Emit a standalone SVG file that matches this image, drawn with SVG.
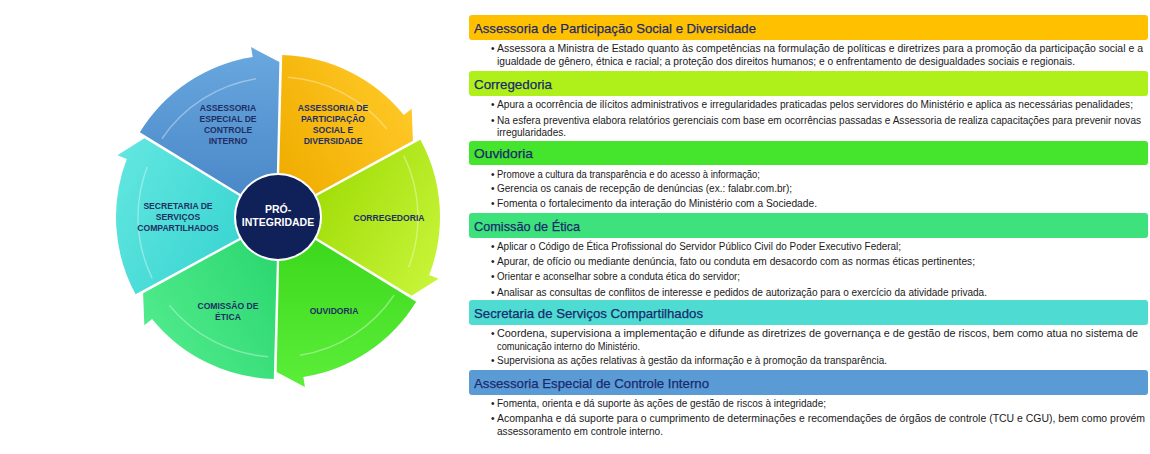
<svg xmlns="http://www.w3.org/2000/svg" width="1150" height="454" viewBox="0 0 1150 454">
<style>
.lbl{font-family:"Liberation Sans",Arial,sans-serif;font-weight:bold;font-size:8.6px;fill:#1f2f63;text-anchor:middle}
.ttl{font-family:"Liberation Sans",Arial,sans-serif;font-size:13.5px;fill:#1a2a6c;stroke:#1a2a6c;stroke-width:0.25}
.b{font-family:"Liberation Sans",Arial,sans-serif;font-size:10px;fill:#1a1a1a}
.shaft{fill:none;stroke:#ffffff;stroke-opacity:0.35;stroke-width:1.5}
</style>
<defs>
<path id="seg" d="M240.49,194.01 L139.84,132.35 A162,162 0 0 1 252.66,57.0 L251.09,47.12 L279.35,62 L276.85,173.01 A44,44 0 0 0 240.49,194.01 Z"/>
<path id="sh" d="M161.94,138.71 A140,140 0 0 1 256.1,78.72"/>
<linearGradient id="g1" x1="0" y1="0" x2="0" y2="1"><stop offset="0" stop-color="#6aa8e0"/><stop offset="1" stop-color="#4a88c8"/></linearGradient>
<linearGradient id="g2" x1="0" y1="0" x2="0" y2="1"><stop offset="0" stop-color="#ffc826"/><stop offset="1" stop-color="#f0ad00"/></linearGradient>
<linearGradient id="g3" x1="0" y1="0" x2="0" y2="1"><stop offset="0" stop-color="#c8f53a"/><stop offset="1" stop-color="#a2de0a"/></linearGradient>
<linearGradient id="g4" x1="0" y1="0" x2="0" y2="1"><stop offset="0" stop-color="#5cee3a"/><stop offset="1" stop-color="#3cd81c"/></linearGradient>
<linearGradient id="g5" x1="0" y1="0" x2="0" y2="1"><stop offset="0" stop-color="#50ea8c"/><stop offset="1" stop-color="#2cd870"/></linearGradient>
<linearGradient id="g6" x1="0" y1="0" x2="0" y2="1"><stop offset="0" stop-color="#62e6e0"/><stop offset="1" stop-color="#3cd6d2"/></linearGradient>
</defs>
<rect width="1150" height="454" fill="#ffffff"/>
<g id="wheel">
<g id="n-aeci"><use href="#seg" fill="url(#g1)"/><use href="#sh" class="shaft"/></g>
<g id="n-apsd" transform="rotate(60 278 217)"><use href="#seg" fill="url(#g2)"/><use href="#sh" class="shaft"/></g>
<g id="n-corr" transform="rotate(120 278 217)"><use href="#seg" fill="url(#g3)"/><use href="#sh" class="shaft"/></g>
<g id="n-ouv" transform="rotate(180 278 217)"><use href="#seg" fill="url(#g4)"/><use href="#sh" class="shaft"/></g>
<g id="n-cet" transform="rotate(240 278 217)"><use href="#seg" fill="url(#g5)"/><use href="#sh" class="shaft"/></g>
<g id="n-ssc" transform="rotate(300 278 217)"><use href="#seg" fill="url(#g6)"/><use href="#sh" class="shaft"/></g>
<g id="n-center"><circle cx="278" cy="217" r="42" fill="#0f2158"/>
<text class="lbl" x="278" y="213" style="fill:#fff;font-size:10.5px">PRÓ-</text>
<text class="lbl" x="278" y="226" style="fill:#fff;font-size:10.5px">INTEGRIDADE</text></g>
</g>
<g id="wheel-labels">
<text class="lbl" x="228" y="111">ASSESSORIA</text><text class="lbl" x="228" y="122">ESPECIAL DE</text><text class="lbl" x="228" y="133">CONTROLE</text><text class="lbl" x="228" y="144">INTERNO</text>
<text class="lbl" x="333" y="111">ASSESSORIA DE</text><text class="lbl" x="333" y="122">PARTICIPAÇÃO</text><text class="lbl" x="333" y="133">SOCIAL E</text><text class="lbl" x="333" y="144">DIVERSIDADE</text>
<text class="lbl" x="389" y="221">CORREGEDORIA</text>
<text class="lbl" x="334" y="314">OUVIDORIA</text>
<text class="lbl" x="228" y="309">COMISSÃO DE</text><text class="lbl" x="228" y="320">ÉTICA</text>
<text class="lbl" x="178" y="209">SECRETARIA DE</text><text class="lbl" x="178" y="220">SERVIÇOS</text><text class="lbl" x="178" y="231">COMPARTILHADOS</text>
</g>
<g id="list">
<rect x="469" y="15" width="679" height="25" rx="3" fill="#ffc000"/>
<text class="ttl" x="474" y="33" textLength="282" lengthAdjust="spacingAndGlyphs">Assessoria de Participação Social e Diversidade</text>
<text class="b" x="491" y="52">•</text><text class="b" x="497" y="52" textLength="646" lengthAdjust="spacingAndGlyphs">Assessora a Ministra de Estado quanto às competências na formulação de políticas e diretrizes para a promoção da participação social e a</text>
<text class="b" x="497" y="65" textLength="578" lengthAdjust="spacingAndGlyphs">igualdade de gênero, étnica e racial; a proteção dos direitos humanos; e o enfrentamento de desigualdades sociais e regionais.</text>

<rect x="469" y="71" width="679" height="25" rx="3" fill="#b0f01a"/>
<text class="ttl" x="474" y="89" textLength="78" lengthAdjust="spacingAndGlyphs">Corregedoria</text>
<text class="b" x="491" y="108">•</text><text class="b" x="497" y="108" textLength="636" lengthAdjust="spacingAndGlyphs">Apura a ocorrência de ilícitos administrativos e irregularidades praticadas pelos servidores do Ministério e aplica as necessárias penalidades;</text>
<text class="b" x="491" y="124">•</text><text class="b" x="497" y="124" textLength="644" lengthAdjust="spacingAndGlyphs">Na esfera preventiva elabora relatórios gerenciais com base em ocorrências passadas e Assessoria de realiza capacitações para prevenir novas</text>
<text class="b" x="497" y="136" textLength="69" lengthAdjust="spacingAndGlyphs">irregularidades.</text>

<rect x="469" y="141" width="679" height="24" rx="3" fill="#44e52c"/>
<text class="ttl" x="474" y="158" textLength="59" lengthAdjust="spacingAndGlyphs">Ouvidoria</text>
<text class="b" x="491" y="178">•</text><text class="b" x="497" y="178" textLength="263" lengthAdjust="spacingAndGlyphs">Promove a cultura da transparência e do acesso à informação;</text>
<text class="b" x="491" y="192">•</text><text class="b" x="497" y="192" textLength="295" lengthAdjust="spacingAndGlyphs">Gerencia os canais de recepção de denúncias (ex.: falabr.com.br);</text>
<text class="b" x="491" y="207">•</text><text class="b" x="497" y="207" textLength="320" lengthAdjust="spacingAndGlyphs">Fomenta o fortalecimento da interação do Ministério com a Sociedade.</text>

<rect x="469" y="213" width="679" height="25" rx="3" fill="#3ee27c"/>
<text class="ttl" x="474" y="231" textLength="106" lengthAdjust="spacingAndGlyphs">Comissão de Ética</text>
<text class="b" x="491" y="250">•</text><text class="b" x="497" y="250" textLength="404" lengthAdjust="spacingAndGlyphs">Aplicar o Código de Ética Profissional do Servidor Público Civil do Poder Executivo Federal;</text>
<text class="b" x="491" y="265">•</text><text class="b" x="497" y="265" textLength="478" lengthAdjust="spacingAndGlyphs">Apurar, de ofício ou mediante denúncia, fato ou conduta em desacordo com as normas éticas pertinentes;</text>
<text class="b" x="491" y="280">•</text><text class="b" x="497" y="280" textLength="243" lengthAdjust="spacingAndGlyphs">Orientar e aconselhar sobre a conduta ética do servidor;</text>
<text class="b" x="491" y="296">•</text><text class="b" x="497" y="296" textLength="490" lengthAdjust="spacingAndGlyphs">Analisar as consultas de conflitos de interesse e pedidos de autorização para o exercício da atividade privada.</text>

<rect x="469" y="300" width="679" height="25" rx="3" fill="#4ddbd2"/>
<text class="ttl" x="474" y="318" textLength="229" lengthAdjust="spacingAndGlyphs">Secretaria de Serviços Compartilhados</text>
<text class="b" x="491" y="337">•</text><text class="b" x="497" y="337" textLength="641" lengthAdjust="spacingAndGlyphs">Coordena, supervisiona a implementação e difunde as diretrizes de governança e de gestão de riscos, bem como atua no sistema de</text>
<text class="b" x="497" y="350" textLength="143" lengthAdjust="spacingAndGlyphs">comunicação interno do Ministério.</text>
<text class="b" x="491" y="364">•</text><text class="b" x="497" y="364" textLength="390" lengthAdjust="spacingAndGlyphs">Supervisiona as ações relativas à gestão da informação e à promoção da transparência.</text>

<rect x="469" y="370" width="679" height="25" rx="3" fill="#5b9bd5"/>
<text class="ttl" x="474" y="388" textLength="235" lengthAdjust="spacingAndGlyphs">Assessoria Especial de Controle Interno</text>
<text class="b" x="491" y="407">•</text><text class="b" x="497" y="407" textLength="329" lengthAdjust="spacingAndGlyphs">Fomenta, orienta e dá suporte às ações de gestão de riscos à integridade;</text>
<text class="b" x="491" y="422">•</text><text class="b" x="497" y="422" textLength="648" lengthAdjust="spacingAndGlyphs">Acompanha e dá suporte para o cumprimento de determinações e recomendações de órgãos de controle (TCU e CGU), bem como provém</text>
<text class="b" x="497" y="435" textLength="166" lengthAdjust="spacingAndGlyphs">assessoramento em controle interno.</text>
</g>
</svg>
